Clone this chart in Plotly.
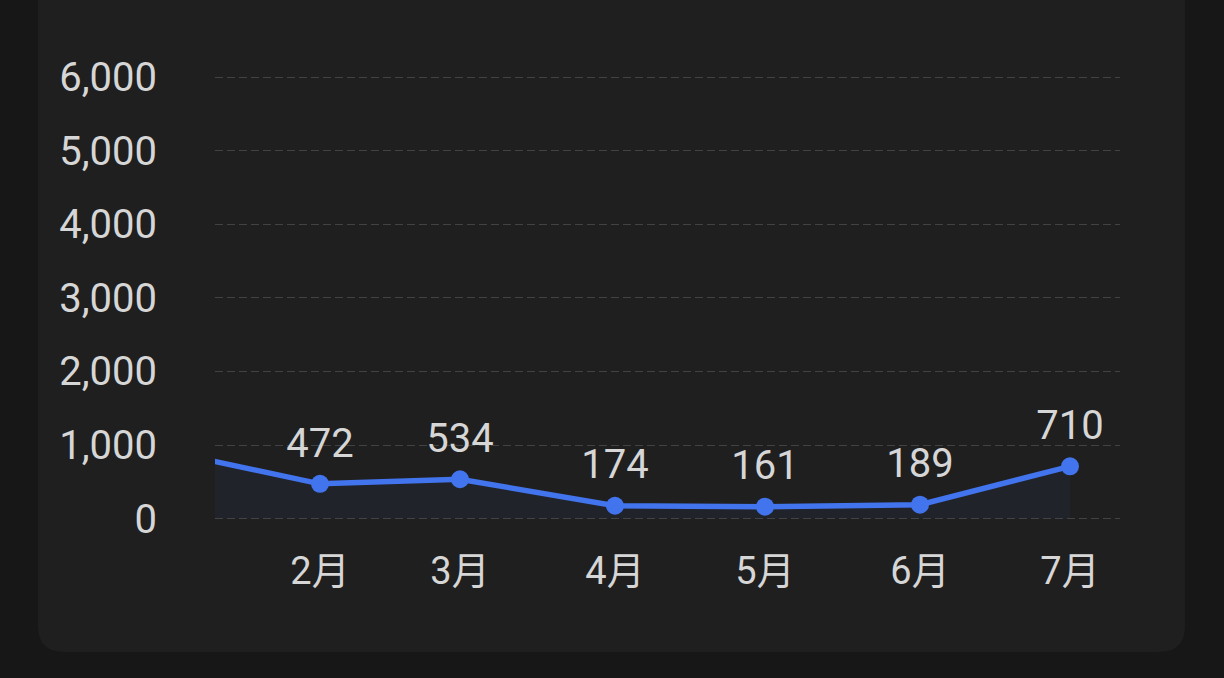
import plotly.graph_objects as go

# monthly values (Jan point sits just left of the visible range)
dates = ["2025-01-01", "2025-02-01", "2025-03-01", "2025-04-01",
         "2025-05-01", "2025-06-01", "2025-07-01"]
values = [920, 472, 534, 174, 161, 189, 710]
tick_dates = dates[1:]
tick_labels = ["2月", "3月", "4月", "5月", "6月", "7月"]
y_ticks = [0, 1000, 2000, 3000, 4000, 5000, 6000]

W, H = 1224, 678
L, R, T, B = 215, 104, 70, 158
pw, ph = W - L - R, H - T - B
FONT = "Roboto, Noto Sans CJK SC"


def to_paper(px, py):
    return (px - L) / pw, (H - B - py) / ph


def card_path(x0, y0, x1, y1, r):
    # rounded rectangle in pixel coords -> paper coords
    def p(x, y):
        a, b = to_paper(x, y)
        return f"{a:.5f},{b:.5f}"
    pts = [
        f"M {p(x0 + r, y0)}", f"L {p(x1 - r, y0)}",
        f"Q {p(x1, y0)} {p(x1, y0 + r)}", f"L {p(x1, y1 - r)}",
        f"Q {p(x1, y1)} {p(x1 - r, y1)}", f"L {p(x0 + r, y1)}",
        f"Q {p(x0, y1)} {p(x0, y1 - r)}", f"L {p(x0, y0 + r)}",
        f"Q {p(x0, y0)} {p(x0 + r, y0)}",
    ]
    return " ".join(pts) + " Z"


sizes = [0] + [18] * (len(values) - 1)

fig = go.Figure()
fig.add_trace(go.Scatter(
    x=dates, y=values,
    mode="lines+markers",
    line=dict(color="#4274ee", width=5.5),
    marker=dict(color="#4274ee", size=sizes, opacity=1, line=dict(width=0)),
    fill="tozeroy",
    fillcolor="rgba(66,116,238,0.05)",
    hoverinfo="skip",
))
# value labels (invisible, larger markers push the text a bit higher)
fig.add_trace(go.Scatter(
    x=dates[1:], y=values[1:],
    mode="markers+text",
    marker=dict(color="rgba(0,0,0,0)", size=26),
    text=[str(v) for v in values[1:]],
    textposition="top center",
    textfont=dict(family=FONT, size=40, color="#d6d6d6"),
    hoverinfo="skip",
))

fig.update_layout(
    width=W, height=H,
    margin=dict(l=L, r=R, t=T, b=B),
    paper_bgcolor="#171717",
    plot_bgcolor="rgba(0,0,0,0)",
    showlegend=False,
    font=dict(family=FONT, color="#d6d6d6"),
    shapes=[dict(
        type="path", xref="paper", yref="paper", layer="below",
        path=card_path(38, -40, 1185, 652, 26),
        fillcolor="#1f1f1f", line=dict(width=0),
    )],
)

fig.update_xaxes(
    type="date",
    range=["2025-01-11", "2025-07-11"],
    tickvals=tick_dates, ticktext=tick_labels,
    showgrid=False, zeroline=False, showline=False,
    ticks="outside", ticklen=17, tickcolor="rgba(0,0,0,0)",
    tickfont=dict(family=FONT, size=38, color="#d6d6d6"),
)
fig.update_yaxes(
    range=[-20, 6100],
    tickvals=y_ticks, tickformat=",d",
    showgrid=True, gridcolor="#424242", griddash="8px,4px", gridwidth=1,
    zeroline=False, showline=False,
    ticks="outside", ticklen=49, tickcolor="rgba(0,0,0,0)",
    tickfont=dict(family=FONT, size=40, color="#d6d6d6"),
)

fig.write_html(
    "out.html",
    config={"displayModeBar": False},
    post_script="document.body.style.margin='0';document.body.style.background='#171717';",
)
